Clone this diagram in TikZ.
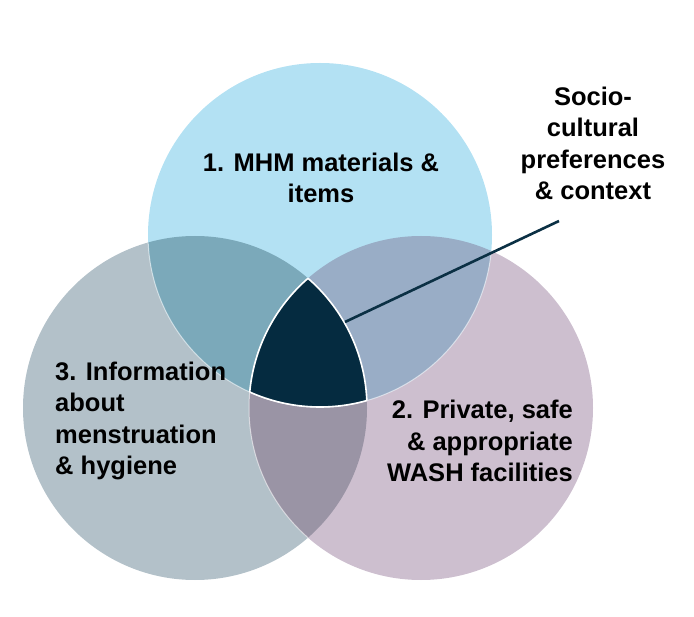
\documentclass[tikz,border=0pt]{standalone}
\usepackage{fontspec}
\setmainfont{Liberation Sans}
\definecolor{cT}{HTML}{B3E1F3}
\definecolor{cL}{HTML}{B3C1C9}
\definecolor{cR}{HTML}{CDBFCF}
\definecolor{cTL}{HTML}{7BA9BA}
\definecolor{cTR}{HTML}{99ADC6}
\definecolor{cLR}{HTML}{9A94A5}
\definecolor{cC}{HTML}{052B40}
\definecolor{navy}{HTML}{0B3044}
\tikzset{
  lbl/.style={inner sep=0pt, font=\fontsize{25.5}{31.5}\selectfont\bfseries, text=black},
  rim/.style={draw=white, line width=1pt, draw opacity=0.55},
  pointer/.style={draw=navy, line width=2.6pt}
}
\begin{document}
\begin{tikzpicture}[x=1pt,y=-1pt]
\useasboundingbox (0,0) rectangle (694,617);
\coordinate (T) at (320,235);
\coordinate (L) at (195,408);
\coordinate (R) at (421,408);
\def\rr{172}
% base circles
\fill[cL] (L) circle[radius=\rr];
\fill[cR] (R) circle[radius=\rr];
\fill[cT] (T) circle[radius=\rr];
% pairwise overlaps
\begin{scope}\clip (T) circle[radius=\rr]; \fill[cTL] (L) circle[radius=\rr];\end{scope}
\begin{scope}\clip (T) circle[radius=\rr]; \fill[cTR] (R) circle[radius=\rr];\end{scope}
\begin{scope}\clip (L) circle[radius=\rr]; \fill[cLR] (R) circle[radius=\rr];\end{scope}
% faint rims
\begin{scope}\clip (L) circle[radius=\rr]; \draw[rim] (T) circle[radius=\rr];\end{scope}
\begin{scope}\clip (R) circle[radius=\rr]; \draw[rim] (T) circle[radius=\rr];\end{scope}
\begin{scope}\clip (L) circle[radius=\rr]; \draw[rim] (R) circle[radius=\rr];\end{scope}
% centre
\begin{scope}\clip (T) circle[radius=\rr]; \clip (L) circle[radius=\rr]; \fill[cC] (R) circle[radius=\rr];\end{scope}
\begin{scope}\clip (T) circle[radius=\rr]; \clip (L) circle[radius=\rr]; \draw[white, line width=1.6pt] (R) circle[radius=\rr];\end{scope}
\begin{scope}\clip (T) circle[radius=\rr]; \clip (R) circle[radius=\rr]; \draw[white, line width=1.6pt] (L) circle[radius=\rr];\end{scope}
\begin{scope}\clip (L) circle[radius=\rr]; \clip (R) circle[radius=\rr]; \draw[white, line width=1.6pt] (T) circle[radius=\rr];\end{scope}
% pointer
\coordinate (pA) at (345,322);
\coordinate (pB) at (559,221);
\draw[pointer] (pA) -- (pB);
% labels (base anchor = baseline of the last line)
\node[lbl, align=center, anchor=base] (t1) at (321,203) {1. MHM materials \&\\items};
\node[lbl, align=center, anchor=base] (t4) at (593,200) {Socio-\\cultural\\preferences\\\& context};
\node[lbl, align=left, anchor=base west] (t3) at (55,475) {3. Information\\about\\menstruation\\\& hygiene};
\node[lbl, align=right, anchor=base east] (t2) at (573,482) {2. Private, safe\\\& appropriate\\WASH facilities};
\end{tikzpicture}
\end{document}
